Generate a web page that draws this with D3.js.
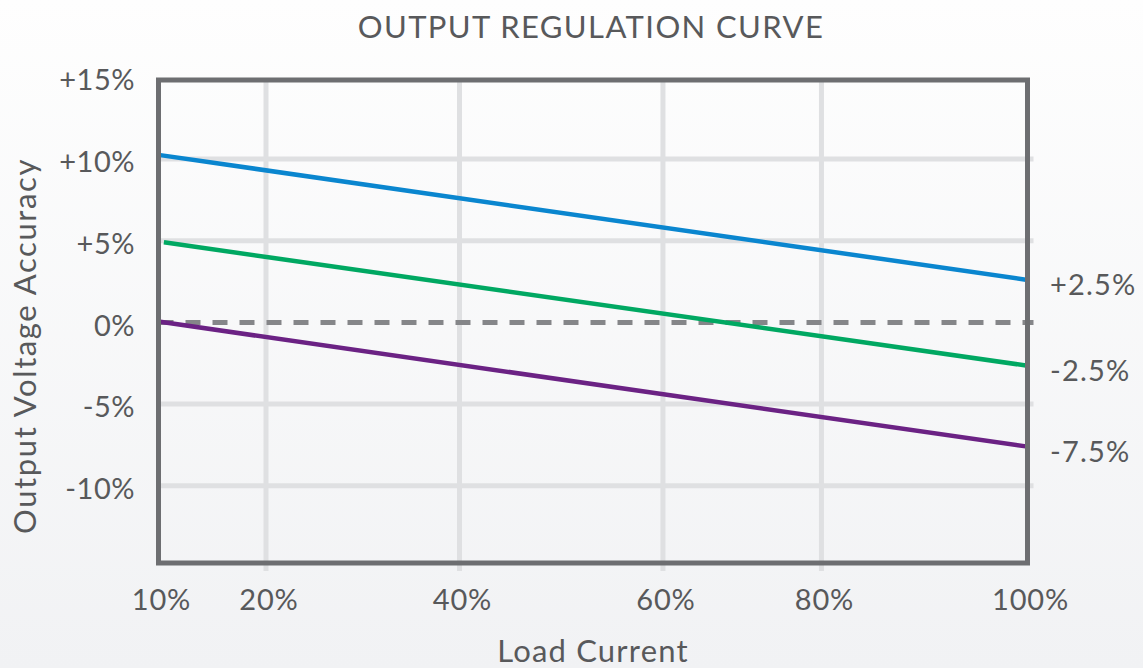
<!DOCTYPE html>
<html>
<head>
<meta charset="utf-8">
<script src="https://cdn.jsdelivr.net/npm/d3@7"></script>
<style>
  html, body { margin: 0; padding: 0; }
  body { width: 1143px; height: 668px; overflow: hidden; }
  text { font-family: Lato, "Open Sans", sans-serif; fill: #58595b; }
</style>
</head>
<body>
<svg id="chart" width="1143" height="668"></svg>
<script>
// ---- data ----
const xTicks = [10, 20, 40, 60, 80, 100];
const xTickLabels = ["10%", "20%", "40%", "60%", "80%", "100%"];
const yTicks = [15, 10, 5, 0, -5, -10];
const yTickLabels = ["+15%", "+10%", "+5%", "0%", "-5%", "-10%"];
const upperLoad = [10, 100];
const upperValues = [10.25, 2.6];
const nominalLoad = [10.5, 100];
const nominalValues = [4.9, -2.65];
const lowerLoad = [10, 100];
const lowerValues = [0.05, -7.6];
const endLabels = ["+2.5%", "-2.5%", "-7.5%"];
const title = "OUTPUT REGULATION CURVE";
const xTitle = "Load Current";
const yTitle = "Output Voltage Accuracy";

// ---- layout ----
const W = 1143, H = 668;
const frame = { left: 158.5, right: 1027.5, top: 80, bottom: 563 };
// non-uniform x spacing as in the reference (fractions of frame width)
const xFrac = [0, 0.1237, 0.3464, 0.5805, 0.7629, 1];

const svg = d3.select("#chart");
const defs = svg.append("defs");
const grad = defs.append("linearGradient").attr("id", "bg").attr("x1", 0).attr("y1", 0).attr("x2", 0).attr("y2", 1);
grad.append("stop").attr("offset", "0%").attr("stop-color", "#fefefe");
grad.append("stop").attr("offset", "100%").attr("stop-color", "#f1f2f4");
svg.append("rect").attr("width", W).attr("height", H).attr("fill", "url(#bg)");

const fw = frame.right - frame.left;
const x = d3.scaleLinear().domain(xTicks).range(xFrac.map(f => frame.left + f * fw));
const y = d3.scaleLinear().domain([-14.72, 14.83]).range([frame.bottom, frame.top]);

// gridlines
const grid = svg.append("g");
grid.selectAll(".hg").data(yTicks.filter(v => v !== 0 && v !== 15)).enter().append("line")
  .attr("x1", frame.left).attr("x2", frame.right + 6)
  .attr("y1", d => y(d)).attr("y2", d => y(d))
  .attr("stroke", "#dfe0e2").attr("stroke-width", 5);
grid.selectAll(".vg").data(xTicks.slice(1, -1)).enter().append("line")
  .attr("x1", d => x(d)).attr("x2", d => x(d))
  .attr("y1", frame.top).attr("y2", frame.bottom + 8)
  .attr("stroke", "#dfe0e2").attr("stroke-width", 5);

// zero dashed line
svg.append("line")
  .attr("x1", frame.left).attr("x2", frame.right + 6)
  .attr("y1", y(0)).attr("y2", y(0))
  .attr("stroke", "#858689").attr("stroke-width", 5)
  .attr("stroke-dasharray", "15,12");

// series
const line = d3.line().x(d => x(d[0])).y(d => y(d[1]));
const series = [
  { load: upperLoad, vals: upperValues, color: "#0a86cf" },
  { load: nominalLoad, vals: nominalValues, color: "#00a862" },
  { load: lowerLoad, vals: lowerValues, color: "#6b2284" }
];
series.forEach(s => {
  svg.append("path")
    .attr("d", line(s.load.map((l, i) => [l, s.vals[i]])))
    .attr("fill", "none").attr("stroke", s.color).attr("stroke-width", 4.5);
});

// frame
svg.append("rect")
  .attr("x", frame.left).attr("y", frame.top)
  .attr("width", fw).attr("height", frame.bottom - frame.top)
  .attr("fill", "none").attr("stroke", "#6d6e71").attr("stroke-width", 5);

// y tick labels
svg.selectAll(".yl").data(yTicks).enter().append("text")
  .attr("x", 135).attr("y", d => y(d) + 3).attr("dy", "0.35em")
  .attr("text-anchor", "end").attr("font-size", 29).attr("letter-spacing", 0.5)
  .text((d, i) => yTickLabels[i]);

// x tick labels
svg.selectAll(".xl").data(xTicks).enter().append("text")
  .attr("x", d => x(d) + 3).attr("y", 610)
  .attr("text-anchor", "middle").attr("font-size", 29).attr("letter-spacing", 0.8)
  .text((d, i) => xTickLabels[i]);

// end labels
series.forEach((s, i) => {
  svg.append("text")
    .attr("x", 1050).attr("y", y(s.vals[s.vals.length - 1]) + 5).attr("dy", "0.35em")
    .attr("font-size", 29).attr("letter-spacing", 1.2)
    .text(endLabels[i]);
});

// titles
svg.append("text").attr("x", 591).attr("y", 38).attr("text-anchor", "middle")
  .attr("font-size", 31).attr("letter-spacing", 1.4).text(title);
svg.append("text").attr("x", 593).attr("y", 662).attr("text-anchor", "middle")
  .attr("font-size", 31).attr("letter-spacing", 1.2).text(xTitle);
svg.append("text").attr("transform", "translate(36,346) rotate(-90)").attr("text-anchor", "middle")
  .attr("font-size", 31).attr("letter-spacing", 1.6).text(yTitle);
</script>
</body>
</html>
